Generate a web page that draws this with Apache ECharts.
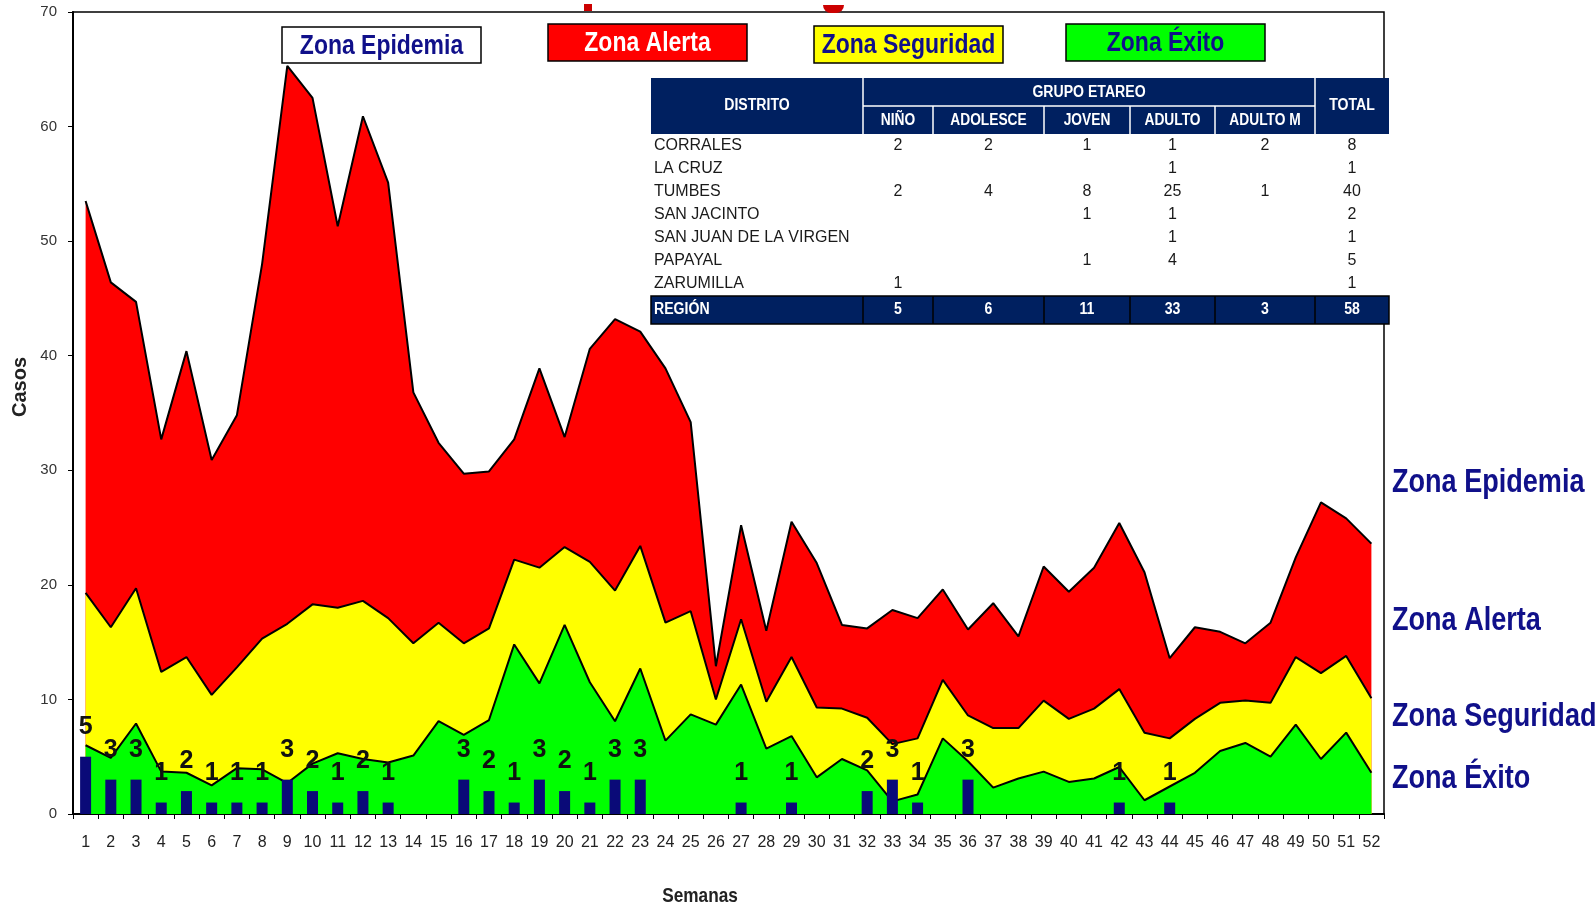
<!DOCTYPE html>
<html>
<head>
<meta charset="utf-8">
<script src="https://cdn.jsdelivr.net/npm/echarts@6/dist/echarts.min.js"></script>
<style>
html, body { margin: 0; padding: 0; background: #fff; }
#chart { width: 1596px; height: 908px; }
</style>
</head>
<body>
<div id="chart"></div>
<script>
// semanas epidemiologicas
var semanas = ['1','2','3','4','5','6','7','8','9','10','11','12','13','14','15','16','17','18','19','20',
  '21','22','23','24','25','26','27','28','29','30','31','32','33','34','35','36','37','38','39','40',
  '41','42','43','44','45','46','47','48','49','50','51','52'];

// limite superior de cada zona del canal endemico
var zonaAlerta = [53.5, 46.4, 44.7, 32.7, 40.4, 30.9, 34.8, 48.0, 65.3, 62.5,
  51.3, 60.9, 55.1, 36.8, 32.4, 29.7, 29.9, 32.7, 38.9, 32.9,
  40.6, 43.2, 42.1, 38.9, 34.2, 12.9, 25.2, 16.0, 25.5, 21.9,
  16.5, 16.2, 17.8, 17.1, 19.6, 16.1, 18.4, 15.5, 21.6, 19.4,
  21.5, 25.4, 21.1, 13.6, 16.3, 15.9, 14.9, 16.7, 22.4, 27.2,
  25.8, 23.6];
var zonaSeguridad = [19.3, 16.3, 19.7, 12.4, 13.7, 10.4, 12.8, 15.3, 16.6, 18.3,
  18.0, 18.6, 17.1, 14.9, 16.7, 14.9, 16.2, 22.2, 21.5, 23.3,
  22.0, 19.5, 23.4, 16.7, 17.7, 10.0, 17.0, 9.8, 13.7, 9.3,
  9.2, 8.4, 6.1, 6.6, 11.7, 8.6, 7.5, 7.5, 9.9, 8.3,
  9.2, 10.9, 7.1, 6.6, 8.3, 9.7, 9.9, 9.7, 13.7, 12.3,
  13.8, 10.1];
var zonaExito = [6.0, 4.9, 7.9, 3.7, 3.6, 2.5, 4.0, 3.9, 2.7, 4.4,
  5.3, 4.8, 4.5, 5.1, 8.1, 6.9, 8.2, 14.8, 11.4, 16.5,
  11.5, 8.1, 12.7, 6.4, 8.7, 7.8, 11.3, 5.7, 6.8, 3.2,
  4.8, 3.8, 1.1, 1.7, 6.6, 4.6, 2.3, 3.1, 3.7, 2.8,
  3.1, 4.1, 1.2, 2.4, 3.6, 5.5, 6.2, 5.0, 7.8, 4.8,
  7.1, 3.6];
// casos notificados por semana
var casos = [5, 3, 3, 1, 2, 1, 1, 1, 3, 2,
  1, 2, 1, 0, 0, 3, 2, 1, 3, 2,
  1, 3, 3, 0, 0, 0, 1, 0, 1, 0,
  0, 2, 3, 1, 0, 3, 0, 0, 0, 0,
  0, 1, 0, 1, 0, 0, 0, 0, 0, 0,
  0, 0];
var yTicks = [0, 10, 20, 30, 40, 50, 60, 70];

// tabla por distrito y grupo etareo
var distritos = ['CORRALES', 'LA CRUZ', 'TUMBES', 'SAN JACINTO', 'SAN JUAN DE LA VIRGEN', 'PAPAYAL', 'ZARUMILLA'];
var grupos = ['NIÑO', 'ADOLESCE', 'JOVEN', 'ADULTO', 'ADULTO M'];
var tabla = [
  [2, 2, 1, 1, 2, 8],
  [null, null, null, 1, null, 1],
  [2, 4, 8, 25, 1, 40],
  [null, null, 1, 1, null, 2],
  [null, null, null, 1, null, 1],
  [null, null, 1, 4, null, 5],
  [1, null, null, null, null, 1]
];
var region = [5, 6, 11, 33, 3, 58];

var zonas = ['Zona Epidemia', 'Zona Alerta', 'Zona Seguridad', 'Zona Éxito'];

var ARIAL = "'Liberation Sans', Arial, sans-serif";
var NAVY = '#002060';
var TXT = '#10108a';
var NARROWX = 0.82; // Arial Narrow ~ Arial escalado en x

// --- graphic: cuadros de zonas, etiquetas laterales y tabla
var g = [];
function txt(s, x, y, font, fill, align, sx, rot) {
  g.push({ type: 'text', x: x, y: y, z: 111, scaleX: sx || 1, rotation: rot || 0,
    style: { text: String(s), x: 0, y: 0, fill: fill, font: font, align: align, verticalAlign: 'middle',
      textAlign: align, textVerticalAlign: 'middle' } });
}
function seg(x1, y1, x2, y2, color, w) {
  g.push({ type: 'line', shape: { x1: x1, y1: y1, x2: x2, y2: y2 }, z: 110,
    style: { stroke: color, lineWidth: w } });
}

var boxes = [
  { x: 282, y: 27, w: 199, h: 36, fill: '#ffffff', color: TXT },
  { x: 548, y: 24, w: 199, h: 37, fill: '#ff0000', color: '#ffffff' },
  { x: 814, y: 26, w: 189, h: 37, fill: '#ffff00', color: TXT },
  { x: 1066, y: 24, w: 199, h: 37, fill: '#00ff00', color: TXT }
];
boxes.forEach(function (b, i) {
  g.push({ type: 'rect', shape: { x: b.x, y: b.y, width: b.w, height: b.h },
    style: { fill: b.fill, stroke: '#000', lineWidth: 1.5 }, z: 100 });
  txt(zonas[i], b.x + b.w / 2, b.y + b.h / 2 + 1, 'bold 28px ' + ARIAL, b.color, 'center', NARROWX);
});

var sideY = [483, 621, 717, 779];
zonas.forEach(function (z, i) {
  txt(z, 1392, sideY[i], 'bold 33px ' + ARIAL, TXT, 'left', NARROWX);
});

// restos rojos recortados en el borde superior
g.push({ type: 'rect', shape: { x: 584, y: 4, width: 8, height: 7 }, style: { fill: '#cc0000' }, z: 102 });
g.push({ type: 'rect', shape: { x: 823, y: 5, width: 21, height: 8, r: [0, 0, 9, 9] }, style: { fill: '#cc0000' }, z: 102 });

// titulos de ejes
txt('Casos', 20, 387, 'bold 20px ' + ARIAL, '#222', 'center', 1, Math.PI / 2);
txt('Semanas', 700, 896, 'bold 21px ' + ARIAL, '#222', 'center', NARROWX);

var colX = [651, 863, 933, 1044, 1130, 1215, 1315, 1389];
var tTop = 78, tMid = 106, tHead = 134, rowH = 22.9, regTop = 296, regBot = 324;
g.push({ type: 'rect', shape: { x: colX[0], y: tHead, width: colX[7] - colX[0], height: regTop - tHead },
  style: { fill: '#fff' }, z: 109 });
g.push({ type: 'rect', shape: { x: colX[0], y: tTop, width: colX[7] - colX[0], height: tHead - tTop },
  style: { fill: NAVY }, z: 109 });
seg(colX[1], tTop, colX[1], tHead, '#fff', 1.5);
seg(colX[6], tTop, colX[6], tHead, '#fff', 1.5);
seg(colX[1], tMid, colX[6], tMid, '#fff', 1.5);
for (var c = 2; c < 6; c++) seg(colX[c], tMid, colX[c], tHead, '#fff', 1.5);
var HFONT = 'bold 16px ' + ARIAL;
txt('DISTRITO', (colX[0] + colX[1]) / 2, (tTop + tHead) / 2, HFONT, '#fff', 'center', 0.88);
txt('GRUPO ETAREO', (colX[1] + colX[6]) / 2, (tTop + tMid) / 2 + 1, HFONT, '#fff', 'center', 0.88);
txt('TOTAL', (colX[6] + colX[7]) / 2, (tTop + tHead) / 2, HFONT, '#fff', 'center', 0.88);
grupos.forEach(function (gr, i) {
  txt(gr, (colX[i + 1] + colX[i + 2]) / 2, (tMid + tHead) / 2 + 1, 'bold 16px ' + ARIAL, '#fff', 'center', 0.86);
});
var DFONT = '16px ' + ARIAL;
distritos.forEach(function (d, r) {
  var y = 146 + r * rowH;
  txt(d, colX[0] + 3, y, DFONT, '#1a1a1a', 'left');
  tabla[r].forEach(function (v, k) {
    if (v !== null) txt(v, (colX[k + 1] + colX[k + 2]) / 2, y, DFONT, '#1a1a1a', 'center');
  });
});
g.push({ type: 'rect', shape: { x: colX[0], y: regTop, width: colX[7] - colX[0], height: regBot - regTop },
  style: { fill: NAVY, stroke: '#000', lineWidth: 1.5 }, z: 109 });
for (var c2 = 1; c2 < 7; c2++) seg(colX[c2], regTop, colX[c2], regBot, '#000', 1.5);
txt('REGIÓN', colX[0] + 3, (regTop + regBot) / 2, 'bold 16px ' + ARIAL, '#fff', 'left', 0.88);
region.forEach(function (v, k) {
  txt(v, (colX[k + 1] + colX[k + 2]) / 2, (regTop + regBot) / 2, 'bold 16px ' + ARIAL, '#fff', 'center', 0.88);
});

function area(name, data, color, z) {
  return {
    name: name, type: 'line', data: data, symbol: 'none', silent: true, z: z,
    lineStyle: { color: '#000', width: 2 },
    areaStyle: { color: color, opacity: 1 }
  };
}

var chart = echarts.init(document.getElementById('chart'));
chart.setOption({
  animation: false,
  backgroundColor: '#fff',
  grid: { left: 73, right: 212, top: 12, bottom: 94, show: true, borderColor: '#000', borderWidth: 1.5 },
  xAxis: {
    type: 'category', data: semanas, boundaryGap: true,
    axisLine: { lineStyle: { color: '#000', width: 2 } },
    axisTick: { show: true, length: 5, lineStyle: { color: '#000' } },
    axisLabel: { interval: 0, margin: 21, fontFamily: ARIAL, fontSize: 16, color: '#222' }
  },
  yAxis: {
    type: 'value', min: yTicks[0], max: yTicks[yTicks.length - 1], interval: 10,
    splitLine: { show: false },
    axisLine: { show: true, lineStyle: { color: '#000', width: 2 } },
    axisTick: { show: true, length: 5, lineStyle: { color: '#000' } },
    axisLabel: { margin: 16, fontFamily: ARIAL, fontSize: 15, color: '#333' }
  },
  series: [
    area('Zona Alerta', zonaAlerta, '#ff0000', 2),
    area('Zona Seguridad', zonaSeguridad, '#ffff00', 3),
    area('Zona Éxito', zonaExito, '#00ff00', 4),
    {
      name: 'Casos', type: 'bar', data: casos, barWidth: 11, silent: true, z: 10,
      itemStyle: { color: '#0a0a78' },
      label: {
        show: true, position: 'top', distance: 17,
        fontFamily: ARIAL, fontWeight: 'bold', fontSize: 25, color: '#111',
        formatter: function (p) { return p.value > 0 ? String(p.value) : ''; }
      }
    }
  ],
  graphic: { elements: g }
});
</script>
</body>
</html>
